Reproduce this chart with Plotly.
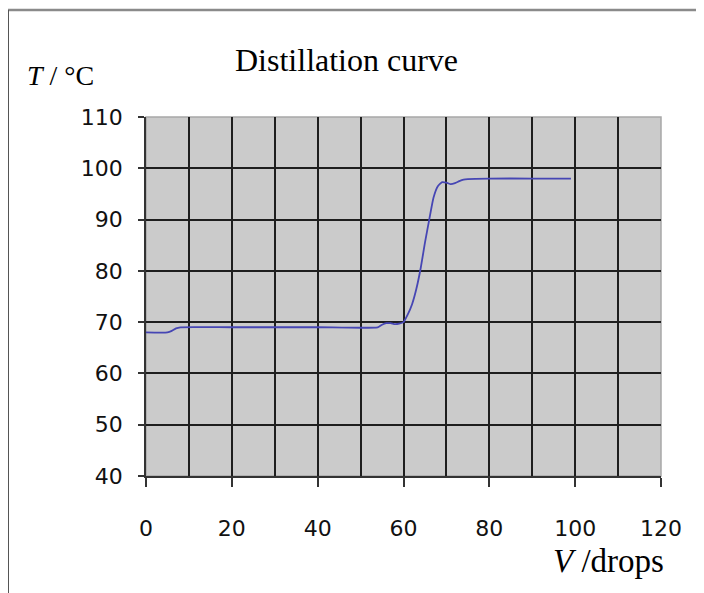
import plotly.graph_objects as go

V = [0, 5, 6, 7, 8, 20, 40, 54, 55, 56, 57, 58, 59, 60, 61, 62, 63, 64, 65, 66, 67, 68, 69, 70, 71, 72, 73, 74, 75, 80, 90, 99]
T = [68, 68, 68.3, 68.8, 69, 69, 69, 69, 69.5, 69.8, 69.8, 69.6, 69.7, 70, 71.5, 73.5, 76.5, 80.5, 85.5, 90, 94.3, 96.5, 97.3, 97.2, 96.9, 97.1, 97.5, 97.8, 97.9, 98, 98, 98]

x_ticks = [0, 20, 40, 60, 80, 100, 120]
y_ticks = [40, 50, 60, 70, 80, 90, 100, 110]
x_grid = [10, 20, 30, 40, 50, 60, 70, 80, 90, 100, 110]
y_grid = [50, 60, 70, 80, 90, 100]

fig = go.Figure()
fig.add_trace(go.Scatter(x=V, y=T, mode="lines",
                         line=dict(color="#4646b4", width=1.8, shape="spline", smoothing=0.5),
                         showlegend=False, hoverinfo="skip"))

tickfont = dict(family="DejaVu Sans", size=22, color="#111111")
fig.update_xaxes(range=[0, 120], tickvals=x_ticks, showgrid=False,
                 ticks="outside", ticklen=9, tickcolor="#333", tickwidth=1.5,
                 ticklabelstandoff=23,
                 showline=True, linecolor="#333", linewidth=1.5,
                 minor=dict(tickvals=x_grid, showgrid=True, gridcolor="#1e1e1e", gridwidth=2, ticks=""),
                 tickfont=tickfont, zeroline=False, fixedrange=True)
fig.update_yaxes(range=[40, 110], tickvals=y_ticks, showgrid=False,
                 ticks="outside", ticklen=6, tickcolor="#333", tickwidth=1.5,
                 ticklabelstandoff=11,
                 showline=True, linecolor="#333", linewidth=1.5,
                 minor=dict(tickvals=y_grid, showgrid=True, gridcolor="#1e1e1e", gridwidth=2, ticks=""),
                 tickfont=tickfont, zeroline=False, fixedrange=True)

# page has an 8px body margin, so the figure is 8px smaller and offset
OFF = 8
W, H = 704 - OFF, 593 - OFF
L, R, Tp, B = 146 - OFF, 43, 117 - OFF, 117
pw, ph = W - L - R, H - Tp - B

def px(x):
    return (x - OFF - L) / pw

def py(y):
    return (H - B - (y - OFF)) / ph

shapes = [
    dict(type="rect", xref="x domain", yref="y domain", x0=0, x1=1, y0=0, y1=1,
         line=dict(color="#a8a8a8", width=1.5), layer="below"),
    dict(type="line", xref="paper", yref="paper", x0=px(8), x1=px(704), y0=py(10), y1=py(10),
         line=dict(color="#8a8a8a", width=2.5)),
    dict(type="line", xref="paper", yref="paper", x0=px(8), x1=px(8), y0=py(10), y1=py(593),
         line=dict(color="#555555", width=2)),
]

annotations = [
    dict(text="Distillation curve", xref="paper", yref="paper", x=px(346), y=py(60),
         showarrow=False, font=dict(family="Liberation Serif", size=32, color="#000"),
         xanchor="center", yanchor="middle"),
    dict(text="<i>T</i> / °C", xref="paper", yref="paper", x=px(25), y=py(75),
         showarrow=False, font=dict(family="Liberation Serif", size=28, color="#000"),
         xanchor="left", yanchor="middle"),
    dict(text="<i>V</i> /drops", xref="paper", yref="paper", x=px(666), y=py(561),
         showarrow=False, font=dict(family="Liberation Serif", size=33, color="#000"),
         xanchor="right", yanchor="middle"),
]

fig.update_layout(width=W, height=H, margin=dict(l=L, r=R, t=Tp, b=B),
                  plot_bgcolor="#cbcbcb", paper_bgcolor="#ffffff",
                  shapes=shapes, annotations=annotations)

fig.write_html("out.html", config={"displayModeBar": False})
